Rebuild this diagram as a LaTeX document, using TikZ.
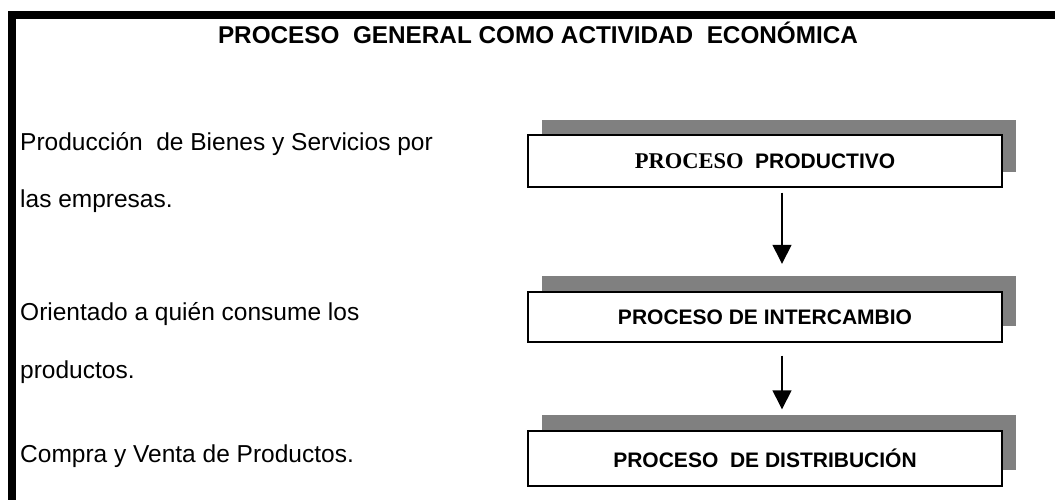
\documentclass[tikz,border=0pt]{standalone}
\usepackage{fontspec}
\setmainfont{Liberation Sans}
\newfontfamily\tnr{Liberation Serif}
\usetikzlibrary{arrows.meta}
\begin{document}
\begin{tikzpicture}[x=1pt,y=-1pt,
  shadowbox/.style={fill=black!50,draw=none,minimum width=474pt,inner sep=0pt},
  procbox/.style={fill=white,draw=black,line width=1.2pt,minimum width=474pt,inner sep=0pt,font=\fontsize{21}{25}\selectfont\bfseries},
  lefttext/.style={anchor=base west,inner sep=0pt,font=\fontsize{24.5}{29}\selectfont},
  flow/.style={line width=1.4pt,-{Triangle[width=19pt,length=19pt]}}]
\fill[white] (0,0) rectangle (1055,500);
\fill[black] (8,11) rectangle (1055,19);
\fill[black] (8,11) rectangle (16,500);
\node[inner sep=0pt,font=\fontsize{24.3}{28}\selectfont\bfseries] (title) at (538,33) {PROCESO\ \ GENERAL COMO ACTIVIDAD\ \ ECONÓMICA};
% boxes
\node[shadowbox,minimum height=52pt] (s1) at (779,146) {};
\node[procbox,minimum height=52pt] (b1) at (765,161) {{\tnr\fontsize{22.5}{25}\selectfont PROCESO}\ \ PRODUCTIVO};
\node[shadowbox,minimum height=50pt] (s2) at (779,301) {};
\node[procbox,minimum height=50pt] (b2) at (765,317) {PROCESO DE INTERCAMBIO};
\node[shadowbox,minimum height=55pt] (s3) at (779,442) {};
\node[procbox,minimum height=55pt] (b3) at (765,458.5) {PROCESO\ \ DE DISTRIBUCIÓN};
% arrows
\draw[flow,shorten <=5pt,shorten >=12pt] ([xshift=17pt]b1.south) -- ([xshift=3pt]s2.north);
\draw[flow,shorten <=13pt,shorten >=5pt] ([xshift=17pt]b2.south) -- ([xshift=3pt]s3.north);
% left texts
\node[lefttext] (t1) at (20,151) {Producción\ \ de Bienes y Servicios por};
\node[lefttext] (t2) at (20,207) {las empresas.};
\node[lefttext] (t3) at (20,320) {Orientado a quién consume los};
\node[lefttext] (t4) at (20,378) {productos.};
\node[lefttext] (t5) at (20,462) {Compra y Venta de Productos.};
\end{tikzpicture}
\end{document}
